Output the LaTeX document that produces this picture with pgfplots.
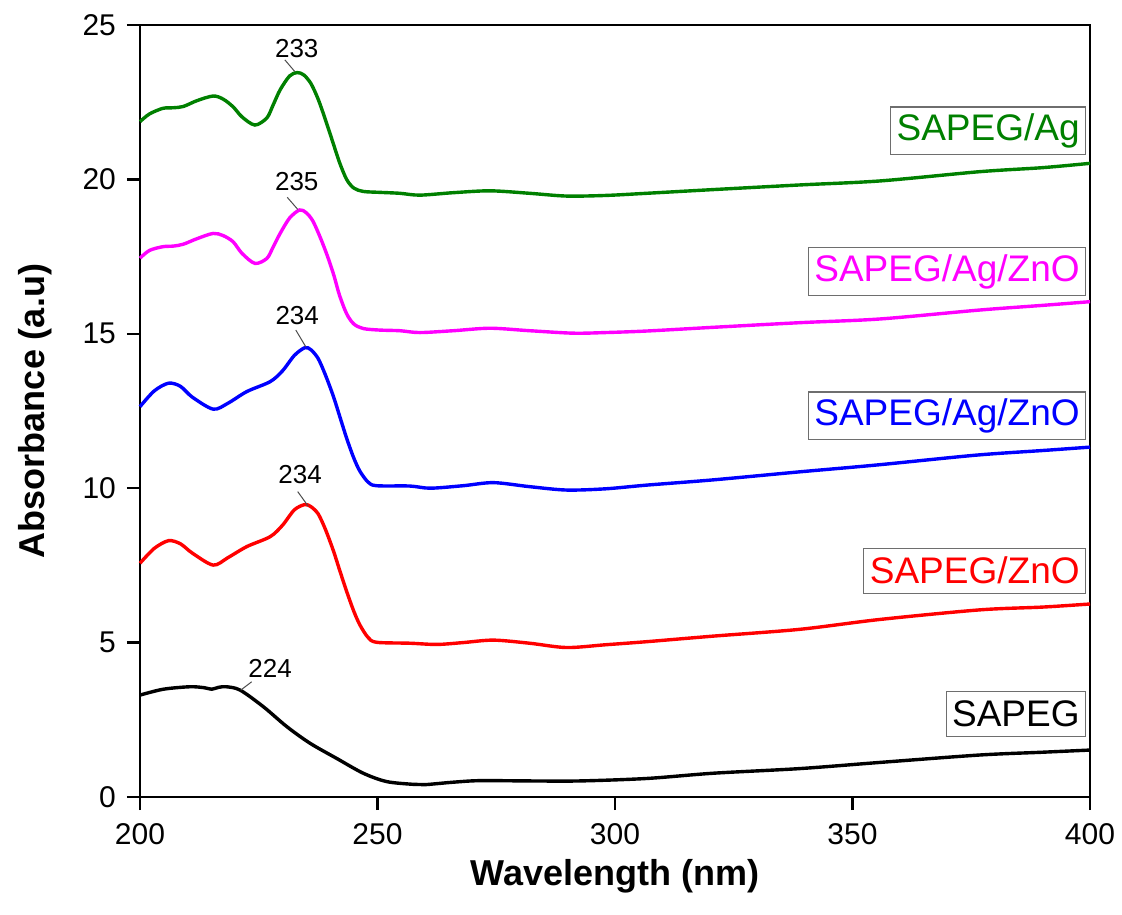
\documentclass[border=0pt]{standalone}
\usepackage{fontspec}
\setmainfont{Liberation Sans}
\usepackage{pgfplots}
\pgfplotsset{compat=1.18}
\definecolor{cgreen}{RGB}{0,128,0}
\definecolor{cmag}{RGB}{255,0,255}
\definecolor{cblue}{RGB}{0,0,255}
\definecolor{cred}{RGB}{255,0,0}
\definecolor{boxgray}{RGB}{110,110,110}
\begin{document}
\begin{tikzpicture}
\begin{axis}[
  scale only axis,
  width=475pt, height=386pt,
  xmin=200, xmax=400, ymin=0, ymax=25,
  xtick={200,250,...,400}, ytick={0,5,...,25},
  tick pos=left, tick align=outside,
  major tick length=6.5pt,
  axis line style={line width=1.2pt},
  every tick/.style={line width=1.2pt, black},
  /pgf/number format/assume math mode=true,
  tick label style={font=\fontsize{15}{17}\selectfont},
  xticklabel style={yshift=-3pt},
  yticklabel style={xshift=-2pt},
  xlabel={\textbf{Wavelength (nm)}},
  ylabel={\textbf{Absorbance (a.u)}},
  label style={font=\fontsize{18}{20}\selectfont},
  xlabel style={at={(axis description cs:0.5,-0.114)}, anchor=base},
  ylabel style={at={(axis description cs:-0.100,0.5)}, anchor=base, rotate=0},
  clip=false,
  every axis plot/.append style={line width=1.7pt, smooth, no markers},
]
% SAPEG/Ag
\addplot[cgreen] coordinates {
(200,21.87) (202,22.12) (204.8,22.30) (207,22.32) (209.1,22.36) (212,22.55) (215.4,22.70)
(217.5,22.60) (219.6,22.35) (221.5,22.02) (224.2,21.76) (226.7,21.99) (228,22.40) (229.5,22.90) (231.5,23.35)
(233.1,23.46) (234.5,23.38) (236,23.10) (237.5,22.60) (239,21.95) (240.5,21.25) (242,20.55)
(243.5,20.00) (245,19.72) (247,19.61)
(250.5,19.58) (254.7,19.55) (258.9,19.49) (266,19.57) (273.7,19.63) (282,19.55)
(289.8,19.46) (298,19.48) (306.7,19.55) (320.7,19.67) (338.9,19.82) (355.8,19.95)
(376.8,20.25) (390,20.38) (400,20.52)};
% SAPEG/Ag/ZnO (magenta)
\addplot[cmag] coordinates {
(200,17.45) (202,17.70) (204.8,17.82) (207,17.84) (209.1,17.90) (212,18.08) (215.4,18.25)
(217.5,18.18) (219.6,17.98) (221.5,17.60) (224.2,17.28) (226.7,17.44) (228,17.80) (229.5,18.25) (231.5,18.75)
(233.6,19.01) (235,18.92) (236.4,18.65) (238,18.10) (239.5,17.50) (240.8,16.90) (242,16.25)
(243.5,15.65) (245,15.32) (247,15.17)
(250.5,15.12) (254.7,15.10) (258.9,15.04) (266,15.10)
(273.7,15.18) (282,15.10) (291.2,15.02) (298,15.04) (306.7,15.09) (320.7,15.21)
(338.9,15.36) (355.8,15.48) (376.8,15.77) (390,15.92) (400,16.04)};
% SAPEG/Ag/ZnO (blue)
\addplot[cblue] coordinates {
(200,12.64) (203,13.15) (206,13.40) (208.5,13.30) (211,12.95) (215.4,12.56)
(218.5,12.75) (222.5,13.13) (227.4,13.45) (230,13.80) (232.5,14.30) (234.7,14.55)
(236,14.48) (237.5,14.20) (239,13.68) (240.7,12.98) (242,12.35) (243.5,11.62) (245,10.98)
(246.3,10.55) (248,10.20) (249.8,10.08)
(256.8,10.07) (261.1,10.00) (268,10.08) (274.4,10.18) (282,10.05) (289.8,9.94)
(298,9.98) (306.7,10.10) (320.7,10.27) (338.9,10.53) (355,10.75) (376,11.07)
(390,11.22) (400,11.33)};
% SAPEG/ZnO
\addplot[cred] coordinates {
(200,7.57) (203,8.05) (206,8.30) (208.5,8.20) (211,7.90) (215.4,7.51)
(218.5,7.75) (222.5,8.11) (227.4,8.43) (230,8.80) (232.5,9.30) (234.7,9.47)
(236,9.40) (237.5,9.17) (239,8.68) (240.7,7.98) (242,7.36) (243.5,6.66) (245,6.02)
(246.3,5.57) (248,5.17) (249.8,5.01)
(256.8,4.98) (262.5,4.94) (268,5.00) (274.4,5.08) (282,4.98) (289.8,4.84)
(298,4.93) (306.7,5.03) (320.7,5.21) (338.9,5.43) (355.8,5.75) (376.8,6.06)
(390,6.15) (400,6.25)};
% SAPEG
\addplot[black] coordinates {
(200,3.30) (204.9,3.49) (210.5,3.57) (213.5,3.54) (215.1,3.49) (216.5,3.55)
(218.2,3.57) (221.1,3.46) (226,2.92) (230.9,2.28) (235.8,1.74) (241.4,1.25)
(247,0.77) (251.9,0.50) (257.5,0.41) (260,0.40) (266,0.48) (271.6,0.53)
(282,0.52) (292.6,0.52) (306.7,0.60) (320.7,0.77) (338.9,0.92) (355.8,1.12)
(376.8,1.36) (390,1.45) (400,1.52)};
% peak annotations
\tikzset{ann/.style={font=\fontsize{13}{15}\selectfont}}
\draw[gray!60!black, line width=0.5pt] (axis cs:230.5,23.87) -- (axis cs:232.6,23.49);
\node[ann] at (axis cs:233.0,24.25) {233};
\draw[gray!60!black, line width=0.5pt] (axis cs:231.0,19.42) -- (axis cs:233.2,19.03);
\node[ann] at (axis cs:233.0,19.93) {235};
\draw[gray!60!black, line width=0.5pt] (axis cs:232.8,15.12) -- (axis cs:234.9,14.58);
\node[ann] at (axis cs:233.1,15.60) {234};
\draw[gray!60!black, line width=0.5pt] (axis cs:233.2,9.89) -- (axis cs:235.4,9.42);
\node[ann] at (axis cs:233.7,10.43) {234};
\draw[gray!60!black, line width=0.5pt] (axis cs:223.5,3.73) -- (axis cs:221.2,3.46);
\node[ann] at (axis cs:227.4,4.17) {224};
% labels in boxes
\tikzset{lbl/.style={draw=boxgray, line width=0.6pt, anchor=east, inner xsep=3pt, minimum height=22.5pt, font=\fontsize{18.5}{20}\selectfont}}
\node[lbl, text=cgreen] at (axis cs:399.2,21.57) {SAPEG/Ag};
\node[lbl, text=cmag] at (axis cs:399.2,17.01) {SAPEG/Ag/ZnO};
\node[lbl, text=cblue] at (axis cs:399.2,12.34) {SAPEG/Ag/ZnO};
\node[lbl, text=cred] at (axis cs:399.2,7.33) {SAPEG/ZnO};
\node[lbl, text=black] at (axis cs:399.2,2.68) {SAPEG};
\end{axis}
\pgfresetboundingbox
\path (current axis.south west) ++(-70pt,-58.5pt) rectangle ++(561pt,457pt);
\end{tikzpicture}
\end{document}
